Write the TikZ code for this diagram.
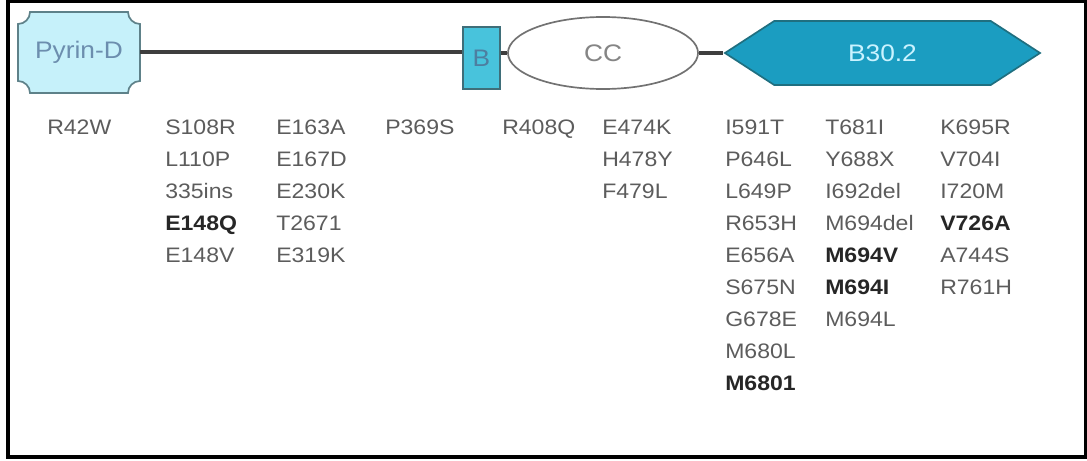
\documentclass[tikz,border=0pt]{standalone}
\usepackage{fontspec}
\setmainfont{Liberation Sans}[FakeStretch=1.1]
\usepackage{xcolor}
\usepackage{tikz}
\usetikzlibrary{shapes}

\definecolor{pyrinfill}{HTML}{C6F1FA}
\definecolor{pyrinedge}{HTML}{5E8189}
\definecolor{pyrintext}{HTML}{6C8EAE}
\definecolor{bfill}{HTML}{48C3DC}
\definecolor{bedge}{HTML}{3F6E79}
\definecolor{btext}{HTML}{4D7EA0}
\definecolor{ccedge}{HTML}{727272}
\definecolor{cctext}{HTML}{858585}
\definecolor{sprfill}{HTML}{1B9DC1}
\definecolor{spredge}{HTML}{1F6F80}
\definecolor{sprtext}{HTML}{CAF3FF}
\definecolor{linkgray}{HTML}{3E3E3E}
\definecolor{mutgray}{HTML}{5C5C5C}
\definecolor{mutbold}{HTML}{262626}

\newcommand{\hot}[1]{\textcolor{mutbold}{\textbf{#1}}}

\begin{document}
\begin{tikzpicture}[x=0.025cm,y=0.025cm,
  dom/.style={font=\fontsize{17}{20}\selectfont,inner sep=0pt},
  mut/.style={anchor=north west,inner sep=0pt,align=left,text=mutgray,
    font=\fontsize{14.9}{22.76}\selectfont},
  link/.style={draw=linkgray,line width=2.6pt}]
\useasboundingbox (0,0) rectangle (1087,-461);
\draw[line width=2.8pt] (8,-1) rectangle (1086,-457);
%
\draw[fill=pyrinfill,draw=pyrinedge,line width=1.2pt]
  (30,-12) -- (128,-12) arc[start angle=180,end angle=270,radius=12]
  -- (140,-81) arc[start angle=90,end angle=180,radius=12]
  -- (30,-93) arc[start angle=0,end angle=90,radius=12]
  -- (18,-24) arc[start angle=270,end angle=360,radius=12] -- cycle;
\node[dom,text=pyrintext,minimum width=3.05cm] (pyrin) at (79,-52) {Pyrin-D};
\node[dom,draw=bedge,fill=bfill,text=btext,line width=1.2pt,
  minimum width=0.925cm,minimum height=1.55cm] (bbox) at (481.5,-58) {B};
\node[dom,ellipse,draw=ccedge,fill=white,text=cctext,line width=1.2pt,
  minimum width=4.75cm,minimum height=1.8cm] (cc) at (603,-53) {CC};
\node[dom,signal,signal to=west and east,signal pointer angle=66,
  draw=spredge,fill=sprfill,text=sprtext,line width=1.2pt,
  minimum width=7.875cm,minimum height=1.6cm] (spry) at (882.5,-53) {B30.2};
%
\draw[link] (pyrin.east) -- (pyrin.east -| bbox.west);
\draw[link] (bbox.east |- cc.west) -- (cc.west);
\draw[link] (cc.east) -- (spry.west);
%
\node[mut] (pyrinmut) at (47,-119.5) {R42W};
\node[mut] (linkmuta) at (165,-119.5) {S108R\\L110P\\335ins\\\hot{E148Q}\\E148V};
\node[mut] (linkmutb) at (276,-119.5) {E163A\\E167D\\E230K\\T2671\\E319K};
\node[mut] (linkmutc) at (385,-119.5) {P369S};
\node[mut] (bboxmut) at (502,-119.5) {R408Q};
\node[mut] (ccmut) at (602,-119.5) {E474K\\H478Y\\F479L};
\node[mut] (sprmuta) at (725,-119.5) {I591T\\P646L\\L649P\\R653H\\E656A\\S675N\\G678E\\M680L\\\hot{M6801}};
\node[mut] (sprmutb) at (825,-119.5) {T681I\\Y688X\\I692del\\M694del\\\hot{M694V}\\\hot{M694I}\\M694L};
\node[mut] (sprmutc) at (940,-119.5) {K695R\\V704I\\I720M\\\hot{V726A}\\A744S\\R761H};
\end{tikzpicture}
\end{document}
